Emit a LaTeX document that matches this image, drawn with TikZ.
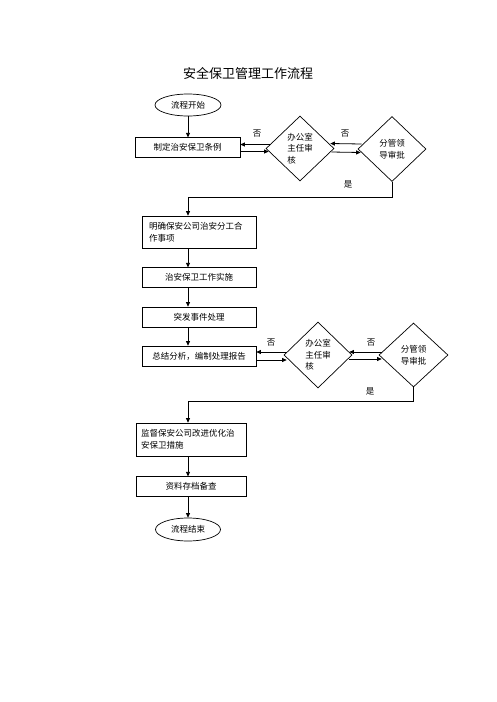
\documentclass[tikz,border=0pt]{standalone}
\usepackage{fontspec}
\setmainfont{Noto Sans CJK SC}
\usetikzlibrary{arrows.meta, shapes.geometric}

\begin{document}
\begin{tikzpicture}[x=1pt, y=-1pt,
  txt/.style={font=\fontsize{8.5}{12}\selectfont},
  box/.style={txt, draw, line width=0.7pt, rectangle, inner sep=0pt},
  endbox/.style={txt, draw, line width=0.7pt, ellipse, inner sep=0pt, minimum width=66pt, minimum height=22pt},
  check/.style={txt, draw, line width=0.7pt, diamond, inner sep=0pt, align=left, font=\fontsize{8.5}{11.5}\selectfont},
  arr/.style={line width=0.8pt, -{Triangle[length=4.5pt,width=4pt]}},
  ln/.style={line width=0.8pt}]
\useasboundingbox (0,0) rectangle (496,702);
\pgfmathsetmacro{\boxH}{19.5}

\node[font=\fontsize{13}{15}\selectfont] (title) at (248,73) {安全保卫管理工作流程};

%.... first loop: rules
\node[endbox] (start) at (188,105) {流程开始};
\node[box, minimum width=105pt, minimum height=\boxH pt] (rules) at (187.5,147.5) {制定治安保卫条例};
\node[check, minimum width=68pt, minimum height=65pt] (office1) at (300,148.5) {办公室\\主任审\\核};
\node[check, minimum width=68pt, minimum height=65pt] (leader1) at (392,149) {分管领\\导审批};

\draw[arr] (start.south) -- (start.south |- rules.north);
\draw[arr] ([xshift=4pt,yshift=4pt]office1.west) -- ([yshift=4pt]office1.west -| rules.east);
\draw[arr] ([yshift=-4pt]rules.east) -- ([xshift=3pt,yshift=-4pt]rules.east -| office1.west);
\draw[arr] ([xshift=4pt,yshift=5pt]leader1.west) -- ([xshift=-4pt,yshift=5pt]office1.east);
\draw[arr] ([xshift=-3pt,yshift=-3.5pt]office1.east) -- ([xshift=3pt,yshift=-3.5pt]leader1.west);
\node[txt] (no1) at (257,134) {否};
\node[txt] (no2) at (345,134) {否};
\node[txt] (yes1) at (348,184) {是};

\coordinate (j1) at (188,197);
\node[box, minimum width=114pt, minimum height=32pt, text width=100pt, align=left] (duty) at (199,232) {明确保安公司治安分工合\\作事项};
\draw[arr] (leader1.south) |- (j1) -- (j1 |- duty.north);

%.... second loop: work and report
\node[box, minimum width=114pt, minimum height=\boxH pt] (work) at (199,277.5) {治安保卫工作实施};
\node[box, minimum width=114pt, minimum height=20pt] (event) at (199,317) {突发事件处理};
\node[box, minimum width=114pt, minimum height=20pt] (report) at (199,356) {总结分析，编制处理报告};
\node[check, minimum width=68pt, minimum height=66pt] (office2) at (318,355) {办公室\\主任审\\核};
\node[check, minimum width=69pt, minimum height=64pt] (leader2) at (413.5,355) {分管领\\导审批};

\draw[arr] (duty.south -| j1) -- (work.north -| j1);
\draw[arr] (work.south -| j1) -- (event.north -| j1);
\draw[arr] (event.south -| j1) -- (report.north -| j1);
\draw[arr] ([xshift=3pt,yshift=3pt]office2.west) -- ([yshift=3pt]office2.west -| report.east);
\draw[arr] ([yshift=-4pt]report.east) -- ([xshift=3pt,yshift=-4pt]report.east -| office2.west);
\draw[arr] ([xshift=3pt,yshift=3pt]leader2.west) -- ([xshift=-3pt,yshift=3pt]office2.east);
\draw[arr] ([xshift=-3pt,yshift=-4pt]office2.east) -- ([xshift=3pt,yshift=-4pt]leader2.west);
\node[txt] (no3) at (271,343) {否};
\node[txt] (no4) at (371,343) {否};
\node[txt] (yes2) at (370,391) {是};

\coordinate (j2) at (188,401);
\node[box, minimum width=110pt, minimum height=33pt, text width=100pt, align=left] (improve) at (191,439.5) {监督保安公司改进优化治\\安保卫措施};
\node[box, minimum width=110pt, minimum height=\boxH pt] (archive) at (191,486.5) {资料存档备查};
\node[endbox, minimum width=65pt, minimum height=23pt] (finish) at (188,529.5) {流程结束};

\draw[arr] (leader2.south) |- (j2) -- (j2 |- improve.north);
\draw[arr] (improve.south -| j2) -- (archive.north -| j2);
\draw[arr] (archive.south -| j2) -- (finish.north -| j2);
\end{tikzpicture}
\end{document}
